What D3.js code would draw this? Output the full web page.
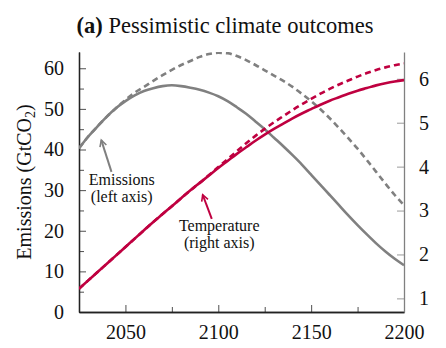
<!DOCTYPE html>
<html>
<head>
<meta charset="utf-8">
<script src="https://cdn.jsdelivr.net/npm/d3@7"></script>
<style>
  body { margin: 0; background: #fff; }
  svg { display: block; font-family: "Liberation Serif", "DejaVu Serif", serif; }
</style>
</head>
<body>
<div id="chart"></div>
<script>
// years sampled every 5 years
const years = d3.range(2025, 2201, 5);

// emissions, GtCO2 (left axis)
const emissionsBase = [40.3, 43.2, 45.7, 48.1, 50.2, 51.9, 53.3, 54.4, 55.1, 55.6, 55.8, 55.6,
  55.2, 54.7, 54.0, 53.1, 51.9, 50.4, 48.8, 46.9, 45.0, 42.9, 40.8, 38.6, 36.3, 33.8,
  31.3, 28.8, 26.3, 23.8, 21.4, 19.1, 16.9, 14.9, 13.1, 11.5];
const emissionsPess = [40.3, 43.2, 45.7, 48.1, 50.2, 52.2, 54.0, 55.4, 56.9, 58.3, 59.6, 60.8,
  61.8, 62.8, 63.5, 63.8, 63.7, 63.0, 62.0, 60.8, 59.5, 58.2, 56.9, 55.4, 53.7, 51.9,
  49.9, 47.7, 45.3, 42.8, 40.2, 37.4, 34.5, 31.6, 28.8, 26.3];

// temperature, deg C (right axis)
const tempBase = [1.22, 1.41, 1.60, 1.79, 1.98, 2.17, 2.36, 2.55, 2.74, 2.92, 3.10, 3.28,
  3.46, 3.63, 3.80, 3.97, 4.13, 4.29, 4.44, 4.59, 4.73, 4.86, 4.98, 5.10, 5.21, 5.31,
  5.41, 5.50, 5.58, 5.66, 5.73, 5.79, 5.85, 5.90, 5.94, 5.97];
const tempPess = [1.22, 1.41, 1.60, 1.79, 1.98, 2.17, 2.36, 2.55, 2.74, 2.92, 3.10, 3.28,
  3.46, 3.63, 3.81, 3.99, 4.17, 4.35, 4.53, 4.70, 4.86, 5.01, 5.15, 5.29, 5.42, 5.54,
  5.66, 5.77, 5.87, 5.96, 6.05, 6.13, 6.20, 6.26, 6.31, 6.35];

const xTicks = [2050, 2100, 2150, 2200];
const xMinor = [2075, 2125, 2175];
const leftTicks = [0, 10, 20, 30, 40, 50, 60];
const leftMinor = [5, 15, 25, 35, 45, 55];
const rightTicks = [1, 2, 3, 4, 5, 6];

const GRAY = '#808080';
const RED = '#bf0040';

const width = 446, height = 348;
const margin = { top: 52, right: 42, bottom: 36, left: 79 };
const innerW = width - margin.left - margin.right;
const innerH = height - margin.top - margin.bottom;

const svg = d3.select('#chart').append('svg')
  .attr('width', width)
  .attr('height', height);

const g = svg.append('g')
  .attr('transform', `translate(${margin.left},${margin.top})`);

const x = d3.scaleLinear().domain([2025, 2200]).range([0, innerW]);
const yL = d3.scaleLinear().domain([0, 64]).range([innerH, 0]);
const yR = d3.scaleLinear().domain([0.69, 6.61]).range([innerH, 0]);

// axes: ticks point inward
const fmt = d3.format('d');
const xAxis = d3.axisBottom(x).tickValues(xTicks).tickFormat(fmt).tickSizeInner(-7).tickSizeOuter(0).tickPadding(13);
const xAxisMinor = d3.axisBottom(x).tickValues(xMinor).tickFormat('').tickSizeInner(-5).tickSizeOuter(0);
const yAxisL = d3.axisLeft(yL).tickValues(leftTicks).tickFormat(fmt).tickSizeInner(-7).tickSizeOuter(0).tickPadding(15);
const yAxisLMinor = d3.axisLeft(yL).tickValues(leftMinor).tickFormat('').tickSizeInner(-5).tickSizeOuter(0);
const yAxisR = d3.axisRight(yR).tickValues(rightTicks).tickFormat(fmt).tickSizeInner(-7).tickSizeOuter(0).tickPadding(15);

function styleAxis(sel, color) {
  sel.select('.domain').attr('stroke', color).attr('stroke-width', 1.3);
  sel.selectAll('.tick line').attr('stroke', color).attr('stroke-width', 0.8);
  sel.selectAll('.tick text').attr('fill', '#111').style('font-size', '20px')
    .style('font-family', '"Liberation Serif", serif');
}

const gx = g.append('g').attr('transform', `translate(0,${innerH})`).call(xAxis);
styleAxis(gx, '#222');
const gxm = g.append('g').attr('transform', `translate(0,${innerH})`).call(xAxisMinor);
styleAxis(gxm, '#222');
const gyl = g.append('g').call(yAxisL);
styleAxis(gyl, '#222');
const gylm = g.append('g').call(yAxisLMinor);
styleAxis(gylm, '#222');
const gyr = g.append('g').attr('transform', `translate(${innerW},0)`).call(yAxisR);
styleAxis(gyr, GRAY);

// clip so curves stay inside the plot
svg.append('defs').append('clipPath').attr('id', 'clip')
  .append('rect').attr('x', 0).attr('y', 0).attr('width', innerW).attr('height', innerH);

const plot = g.append('g').attr('clip-path', 'url(#clip)');

const lineL = d3.line().x((d, i) => x(years[i])).y(d => yL(d)).curve(d3.curveMonotoneX);
const lineR = d3.line().x((d, i) => x(years[i])).y(d => yR(d)).curve(d3.curveMonotoneX);

plot.append('path').datum(emissionsPess)
  .attr('fill', 'none').attr('stroke', GRAY).attr('stroke-width', 2.6)
  .attr('stroke-dasharray', '6,4').attr('d', lineL);
plot.append('path').datum(emissionsBase)
  .attr('fill', 'none').attr('stroke', GRAY).attr('stroke-width', 2.6).attr('d', lineL);
plot.append('path').datum(tempPess)
  .attr('fill', 'none').attr('stroke', RED).attr('stroke-width', 2.6)
  .attr('stroke-dasharray', '6,4').attr('d', lineR);
plot.append('path').datum(tempBase)
  .attr('fill', 'none').attr('stroke', RED).attr('stroke-width', 2.6).attr('d', lineR);

// annotations with arrows
function arrow(x1, y1, x2, y2, color) {
  g.append('line').attr('x1', x1).attr('y1', y1).attr('x2', x2).attr('y2', y2)
    .attr('stroke', color).attr('stroke-width', 2);
  const a = Math.atan2(y2 - y1, x2 - x1);
  const L = 7, w = 0.5;
  const p = d3.path();
  p.moveTo(x2 - L * Math.cos(a - w), y2 - L * Math.sin(a - w));
  p.lineTo(x2, y2);
  p.lineTo(x2 - L * Math.cos(a + w), y2 - L * Math.sin(a + w));
  g.append('path').attr('d', p.toString()).attr('fill', 'none')
    .attr('stroke', color).attr('stroke-width', 1.6);
}

// emissions label near 2035, temperature label near 2100
arrow(x(2042.5), yL(34.5), x(2037), yL(42.3), GRAY);
const emText = g.append('text').attr('text-anchor', 'middle').style('font-size', '16px').attr('fill', '#111');
emText.append('tspan').attr('x', x(2048)).attr('y', yL(31.2)).text('Emissions');
emText.append('tspan').attr('x', x(2048)).attr('y', yL(27.0)).text('(left axis)');

arrow(x(2096.5), yR(2.81), x(2091.6), yR(3.36), RED);
const tText = g.append('text').attr('text-anchor', 'middle').style('font-size', '16px').attr('fill', '#111');
tText.append('tspan').attr('x', x(2100.5)).attr('y', yR(2.53)).text('Temperature');
tText.append('tspan').attr('x', x(2100.5)).attr('y', yR(2.15)).text('(right axis)');

// y-axis title
const yt = svg.append('text')
  .attr('transform', `translate(31,182) rotate(-90)`)
  .attr('text-anchor', 'middle')
  .style('font-size', '20px').attr('fill', '#111');
yt.append('tspan').text('Emissions (GtCO');
yt.append('tspan').attr('dy', 4).style('font-size', '14px').text('2');
yt.append('tspan').attr('dy', -4).text(')');

// title
const title = svg.append('text').attr('x', 225).attr('y', 33)
  .attr('text-anchor', 'middle').style('font-size', '22.5px').attr('fill', '#111');
title.append('tspan').style('font-weight', 'bold').text('(a)');
title.append('tspan').text(' Pessimistic climate outcomes');
</script>
</body>
</html>
